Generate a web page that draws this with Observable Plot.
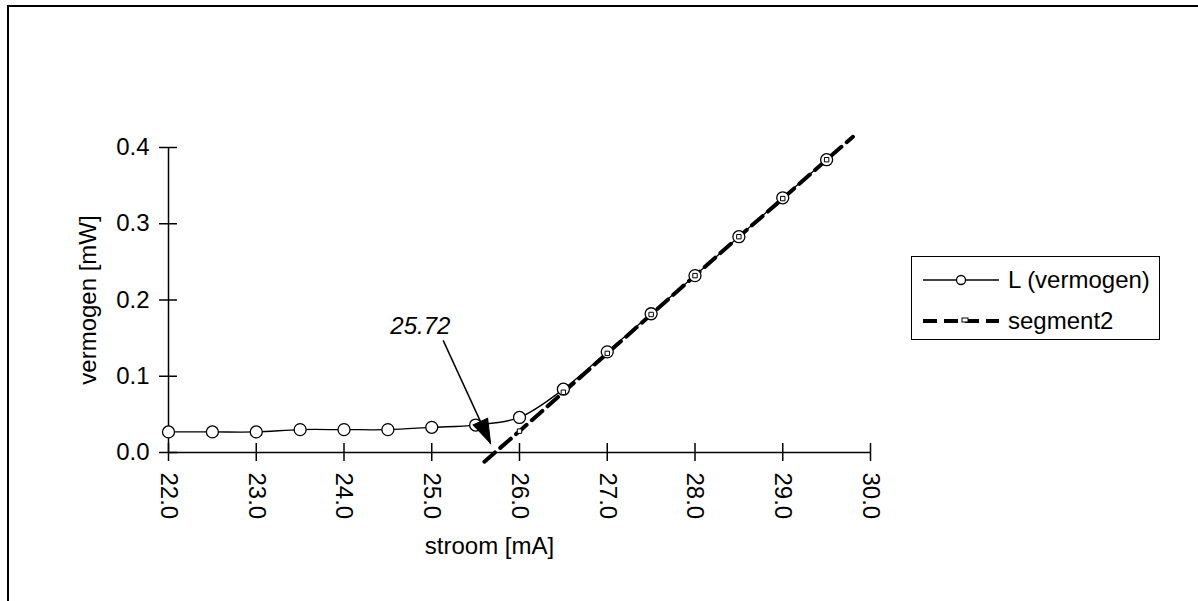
<!DOCTYPE html>
<html><head><meta charset="utf-8">
<script src="https://cdn.jsdelivr.net/npm/d3@7"></script>
<script src="https://cdn.jsdelivr.net/npm/@observablehq/plot@0.6"></script>
<style>
html,body{margin:0;padding:0;background:#fff;}
#wrap{position:relative;width:1198px;height:601px;overflow:hidden;font-family:"Liberation Sans",Arial,sans-serif;}
#border{position:absolute;left:7px;top:5px;width:1200px;height:610px;border-top:2px solid #000;border-left:2px solid #000;}
#chart{position:absolute;left:0;top:0;}
#legend{position:absolute;left:911px;top:256px;width:247px;height:82px;border:1px solid #000;background:#fff;}
</style></head><body>
<div id="wrap"><div id="border"></div><div id="chart"></div><div id="legend"></div></div>
<script>
// ---- data ----
const current = [22.0,22.5,23.0,23.5,24.0,24.5,25.0,25.5,26.0,26.5,27.0,27.5,28.0,28.5,29.0,29.5];
const power   = [0.027,0.027,0.027,0.030,0.030,0.030,0.033,0.036,0.046,0.083,0.132,0.182,0.232,0.283,0.334,0.384];
const segCurrent = [25.6,26.0,26.5,27.0,27.5,28.0,28.5,29.0,29.5,29.8];
const segPower   = [-0.012,0.028,0.079,0.130,0.181,0.232,0.283,0.333,0.384,0.414];
const seriesNames = ["L (vermogen)","segment2"];
const xTicks = [22,23,24,25,26,27,28,29,30];
const yTicks = [0,0.1,0.2,0.3,0.4];
const xLabel = "stroom [mA]";
const yLabel = "vermogen [mW]";
const annotText = ["25.72"];
const annotLabelX = [24.87], annotLabelY = [0.165];
const arrowFromX = [25.13], arrowFromY = [0.147];
const arrowToX = [25.67], arrowToY = [0.012];

// ---- tables ----
const L = current.map((x,i)=>({x, y: power[i]}));
const seg = segCurrent.map((x,i)=>({x, y: segPower[i]}));
const segMarks = seg.filter(d=>d.x>=26 && d.x<=29.5);
const annot = annotText.map((t,i)=>({t, x: annotLabelX[i], y: annotLabelY[i],
  x1: arrowFromX[i], y1: arrowFromY[i], x2: arrowToX[i], y2: arrowToY[i]}));

// arrowhead symbol: tip at origin, pointing up
const arrowHead = {draw(ctx){ ctx.moveTo(0,0); ctx.lineTo(-8,24); ctx.lineTo(8,24); ctx.closePath(); }};

const W=1198,H=601,ML=168,MR=328,MT=147,MB=149;
const plotW=W-ML-MR, plotH=H-MT-MB;
const fmt = d3.format(".1f");

const chart = Plot.plot({
  width: W, height: H, marginLeft: ML, marginRight: MR, marginTop: MT, marginBottom: MB,
  style: {fontFamily: "'Liberation Sans', Arial, sans-serif", fontSize: "24px", color: "#000", background: "transparent", overflow: "visible"},
  x: {domain: [22, 30]},
  y: {domain: [0, 0.4]},
  marks: [
    Plot.ruleY([0], {stroke: "#000", strokeWidth: 1.5}),
    Plot.ruleX([22], {stroke: "#000", strokeWidth: 1.5}),
    Plot.tickX(xTicks, {x: d=>d, insetTop: plotH-18, dy: 9, stroke: "#000", strokeWidth: 1.5}),
    Plot.tickY(yTicks, {y: d=>d, insetRight: plotW-18, dx: -9, stroke: "#000", strokeWidth: 1.5}),
    Plot.axisX({ticks: xTicks, tickSize: 0, tickPadding: 20, tickRotate: 90, tickFormat: fmt, label: null, fontSize: 24}),
    Plot.axisY({ticks: yTicks, tickSize: 0, tickPadding: 19, tickFormat: fmt, label: null, fontSize: 24}),
    Plot.text([xLabel], {text: d=>d, frameAnchor: "bottom", lineAnchor: "middle", textAnchor: "middle", dy: 94, dx: -30, fontSize: 24}),
    Plot.text([yLabel], {text: d=>d, frameAnchor: "left", lineAnchor: "middle", textAnchor: "middle", rotate: -90, dx: -80, fontSize: 24}),
    Plot.line(seg, {x: "x", y: "y", stroke: "#000", strokeWidth: 4, strokeDasharray: "14,7"}),
    Plot.line(L, {x: "x", y: "y", stroke: "#000", strokeWidth: 1.3, curve: "catmull-rom"}),
    Plot.dot(L, {x: "x", y: "y", r: 6, fill: "#fff", stroke: "#000", strokeWidth: 1.3}),
    Plot.dot(segMarks, {x: "x", y: "y", symbol: "square", r: 2.5, fill: "#fff", stroke: "#000", strokeWidth: 1}),
    Plot.link(annot, {x1: "x1", y1: "y1", x2: "x2", y2: "y2", stroke: "#000", strokeWidth: 1.5}),
    Plot.dot(annot, {x: "x2", y: "y2", symbol: arrowHead, r: 5, rotate: 155, fill: "#000", stroke: "#000", strokeWidth: 1}),
    Plot.text(annot, {x: "x", y: "y", text: "t", fontStyle: "italic", fontSize: 24})
  ]
});
document.getElementById("chart").appendChild(chart);

// ---- legend ----
const lg = d3.select("#legend").append("svg").attr("width", 247).attr("height", 82)
  .style("font-family", "'Liberation Sans', Arial, sans-serif");
const rows = lg.selectAll("g").data(seriesNames).join("g")
  .attr("transform", (d,i)=>`translate(0,${i===0?23:64})`);
rows.append("line").attr("x1", 11).attr("x2", 87).attr("y1", 0).attr("y2", 0)
  .attr("stroke", "#000")
  .attr("stroke-width", (d,i)=>i===0?1.3:4)
  .attr("stroke-dasharray", (d,i)=>i===0?null:"14,7");
rows.filter((d,i)=>i===0).append("circle").attr("cx", 49).attr("cy", 0).attr("r", 4.5)
  .attr("fill", "#fff").attr("stroke", "#000").attr("stroke-width", 1.3);
rows.filter((d,i)=>i===1).append("rect").attr("x", 50).attr("y", -3).attr("width", 6).attr("height", 4)
  .attr("fill", "#fff").attr("stroke", "#000").attr("stroke-width", 1);
rows.append("text").attr("x", 96).attr("y", 0).attr("dy", "0.35em").attr("font-size", 24).text(d=>d);
</script>
</body></html>
